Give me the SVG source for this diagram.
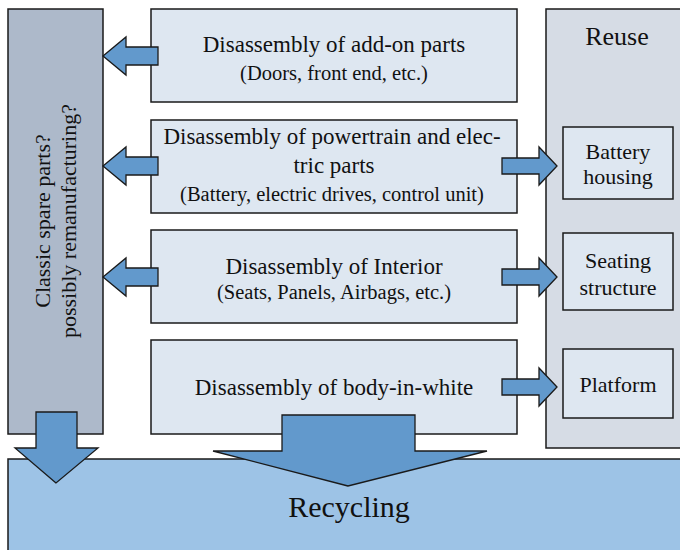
<svg xmlns="http://www.w3.org/2000/svg" width="680" height="550" viewBox="0 0 680 550" font-family="Liberation Serif, Times New Roman, DejaVu Serif, serif">
<style>
text{font-family:"Liberation Serif","Times New Roman","DejaVu Serif",serif;fill:#111;text-anchor:middle}
.box{fill:#dee7f1;stroke:#1a1a1a;stroke-width:1.5}
.arr{fill:#6299cc;stroke:#1a1a1a;stroke-width:1.3;stroke-linejoin:miter}
.t{font-size:23px}
.s{font-size:20.5px}
.r{font-size:22px}
</style>
<rect width="680" height="550" fill="#ffffff"/>
<g id="reuse">
<rect x="546" y="9" width="140" height="439" fill="#d6dce5" stroke="#1a1a1a" stroke-width="1.5"/>
<text x="617" y="45" font-size="26">Reuse</text>
</g>
<g id="spare-parts">
<rect x="8" y="9" width="95" height="425" fill="#adb9ca" stroke="#1a1a1a" stroke-width="1.5"/>
<text transform="translate(50,221) rotate(-90)" font-size="22">Classic spare parts?</text>
<text transform="translate(76,221) rotate(-90)" font-size="22">possibly remanufacturing?</text>
</g>
<g id="recycling">
<rect x="8" y="459" width="680" height="100" fill="#9dc3e6" stroke="#1a1a1a" stroke-width="1.5"/>
<text x="349" y="517" font-size="30">Recycling</text>
</g>
<g id="addon">
<rect class="box" x="151" y="9" width="366" height="93"/>
<text class="t" x="334" y="52">Disassembly of add-on parts</text>
<text class="s" x="334" y="80">(Doors, front end, etc.)</text>
</g>
<g id="powertrain">
<rect class="box" x="151" y="120" width="366" height="93"/>
<text class="t" x="332" y="144">Disassembly of powertrain and elec-</text>
<text class="t" x="334" y="173">tric parts</text>
<text class="s" x="332" y="201">(Battery, electric drives, control unit)</text>
</g>
<g id="interior">
<rect class="box" x="151" y="230" width="366" height="93"/>
<text class="t" x="334" y="274">Disassembly of Interior</text>
<text class="s" x="334" y="299">(Seats, Panels, Airbags, etc.)</text>
</g>
<g id="biw">
<rect class="box" x="151" y="340" width="366" height="94"/>
<text class="t" x="334" y="395">Disassembly of body-in-white</text>
</g>
<g id="battery-housing">
<rect class="box" x="563" y="127" width="110" height="72"/>
<text class="r" x="618" y="159">Battery</text>
<text class="r" x="618" y="184">housing</text>
</g>
<g id="seating-structure">
<rect class="box" x="563" y="233" width="110" height="77"/>
<text class="r" x="618" y="268">Seating</text>
<text class="r" x="618" y="295">structure</text>
</g>
<g id="platform">
<rect class="box" x="563" y="349" width="110" height="69"/>
<text class="r" x="618" y="392">Platform</text>
</g>
<g id="connectors">
<path class="arr" d="M103,56 L126,37 L126,47 L158,47 L158,65 L126,65 L126,75 Z"/>
<path class="arr" d="M103,166 L126,147 L126,157 L158,157 L158,175 L126,175 L126,185 Z"/>
<path class="arr" d="M103,277 L126,258 L126,268 L158,268 L158,286 L126,286 L126,296 Z"/>
<path class="arr" d="M557,166 L539,147 L539,158 L502,158 L502,174 L539,174 L539,185 Z"/>
<path class="arr" d="M557,277 L539,258 L539,269 L502,269 L502,285 L539,285 L539,296 Z"/>
<path class="arr" d="M557,387 L539,368 L539,379 L502,379 L502,395 L539,395 L539,406 Z"/>
<path class="arr" d="M56,483 L15,448 L36,448 L36,412 L77,412 L77,448 L98,448 Z"/>
<path class="arr" d="M348,486 L213,451 L282,451 L282,415 L415,415 L415,451 L487,451 Z"/>
</g>
</svg>
